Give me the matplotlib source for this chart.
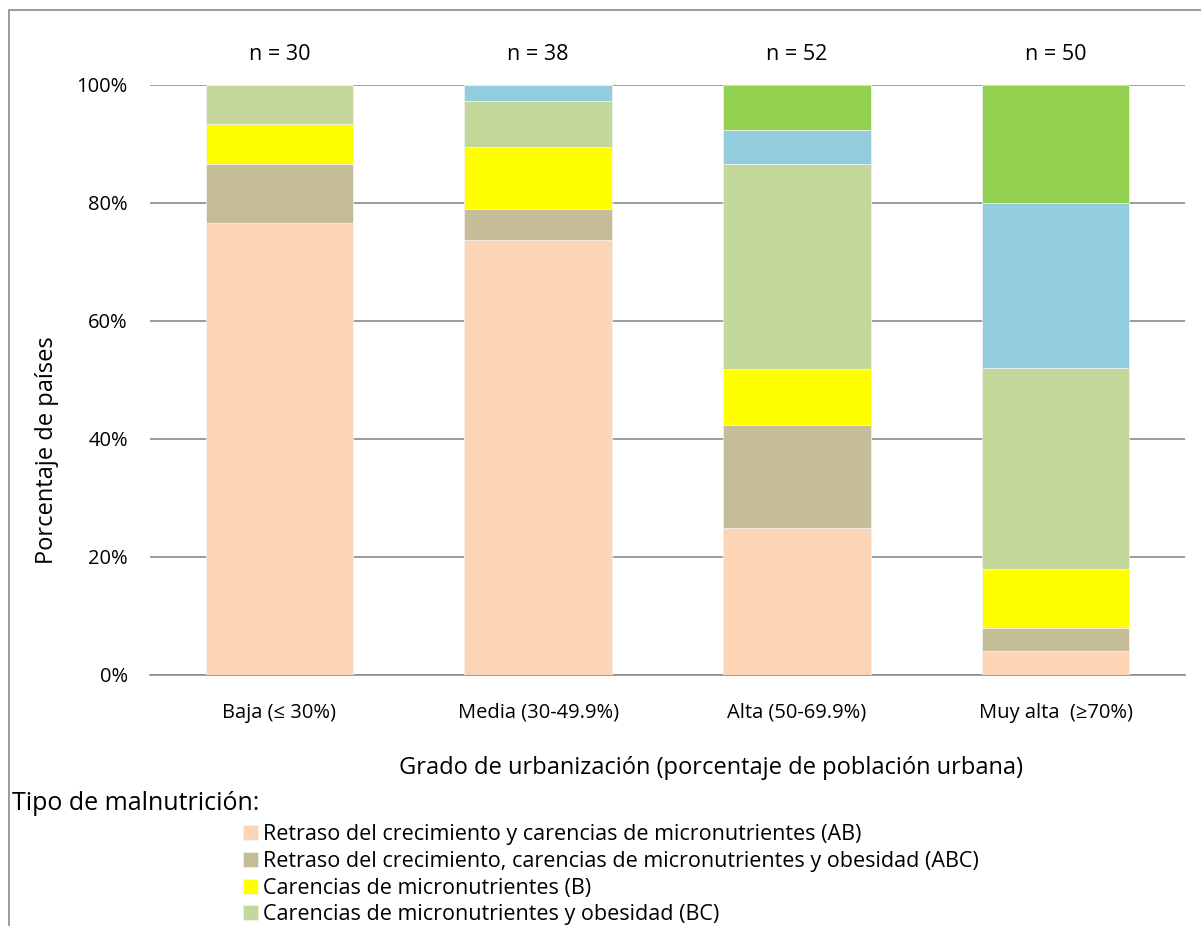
import matplotlib
matplotlib.use("Agg")
import matplotlib.pyplot as plt
from matplotlib.patches import Rectangle
import numpy as np

plt.rcParams['font.family'] = ['Open Sans', 'DejaVu Sans']

categories = ["Baja (≤ 30%)", "Media (30-49.9%)", "Alta (50-69.9%)", "Muy alta  (≥70%)"]
n_countries = [30, 38, 52, 50]

# Number of countries per malnutrition type in each urbanisation group
count_AB = [23, 28, 13, 2]
count_ABC = [3, 2, 9, 2]
count_B = [2, 4, 5, 5]
count_BC = [2, 3, 18, 17]
count_C = [0, 1, 3, 14]
count_none = [0, 0, 4, 10]

series_labels = [
    "Retraso del crecimiento y carencias de micronutrientes (AB)",
    "Retraso del crecimiento, carencias de micronutrientes y obesidad (ABC)",
    "Carencias de micronutrientes (B)",
    "Carencias de micronutrientes y obesidad (BC)",
    "Obesidad (C)",
    "Ninguno",
]
series_colors = ["#FBD5B5", "#C4BD97", "#FFFF00", "#C4D79B", "#93CDDD", "#92D050"]
y_ticks = [0, 20, 40, 60, 80, 100]

W, H = 1201, 926
fig = plt.figure(figsize=(W / 100, H / 100), dpi=100)
fig.patch.set_facecolor("white")

# outer frame of the chart
fig.add_artist(Rectangle((9 / W, -0.05), 1.2, 1.05 - 10 / H, transform=fig.transFigure,
                         fill=False, edgecolor="#8a8a8a", linewidth=1.2))

ax = fig.add_axes([150 / W, 251 / H, 1035 / W, 590 / H])

counts = np.array([count_AB, count_ABC, count_B, count_BC, count_C, count_none], dtype=float)
pct = counts / np.array(n_countries, dtype=float) * 100
x = np.arange(len(categories))
bottom = np.zeros(len(categories))
handles = []
for vals, col, lab in zip(pct, series_colors, series_labels):
    b = ax.bar(x, vals, width=0.57, bottom=bottom, color=col, edgecolor="#f4f4f4",
               linewidth=0.5, label=lab, zorder=3)
    handles.append(b)
    bottom += vals

ax.set_xlim(-0.5, len(categories) - 0.5)
ax.set_ylim(0, 100)
ax.set_yticks(y_ticks)
ax.set_yticklabels([f"{t}%" for t in y_ticks], fontsize=14.5)
ax.set_xticks(x)
ax.set_xticklabels(categories, fontsize=14.5)
ax.tick_params(axis="both", length=0)
ax.tick_params(axis="y", pad=16)
ax.tick_params(axis="x", pad=20)
ax.yaxis.grid(True, color="#8c8c8c", linewidth=1.2, zorder=0)
ax.set_axisbelow(True)
for s in ["left", "right", "top"]:
    ax.spines[s].set_visible(False)
ax.spines["bottom"].set_color("#8c8c8c")
ax.spines["bottom"].set_linewidth(1.2)

for xi, n in zip(x, n_countries):
    ax.text(xi, 105.2, f"n = {n}", ha="center", va="center", fontsize=15.5, clip_on=False)

fig.text(47 / W, 1 - 450 / H, "Porcentaje de países", rotation=90, ha="center", va="center",
         fontsize=17)
fig.text(711 / W, 1 - 768 / H, "Grado de urbanización (porcentaje de población urbana)",
         ha="center", va="center", fontsize=17)
fig.text(12 / W, 1 - 803 / H, "Tipo de malnutrición:", ha="left", va="center", fontsize=18)

fig.legend(handles=handles, loc="upper left", bbox_to_anchor=(243 / W, 1 - 824 / H),
           frameon=False, fontsize=15.5, handlelength=0.7, handleheight=0.7,
           handletextpad=0.25, labelspacing=0.27, borderaxespad=0, borderpad=0)

fig.savefig("out.png", dpi=100)
